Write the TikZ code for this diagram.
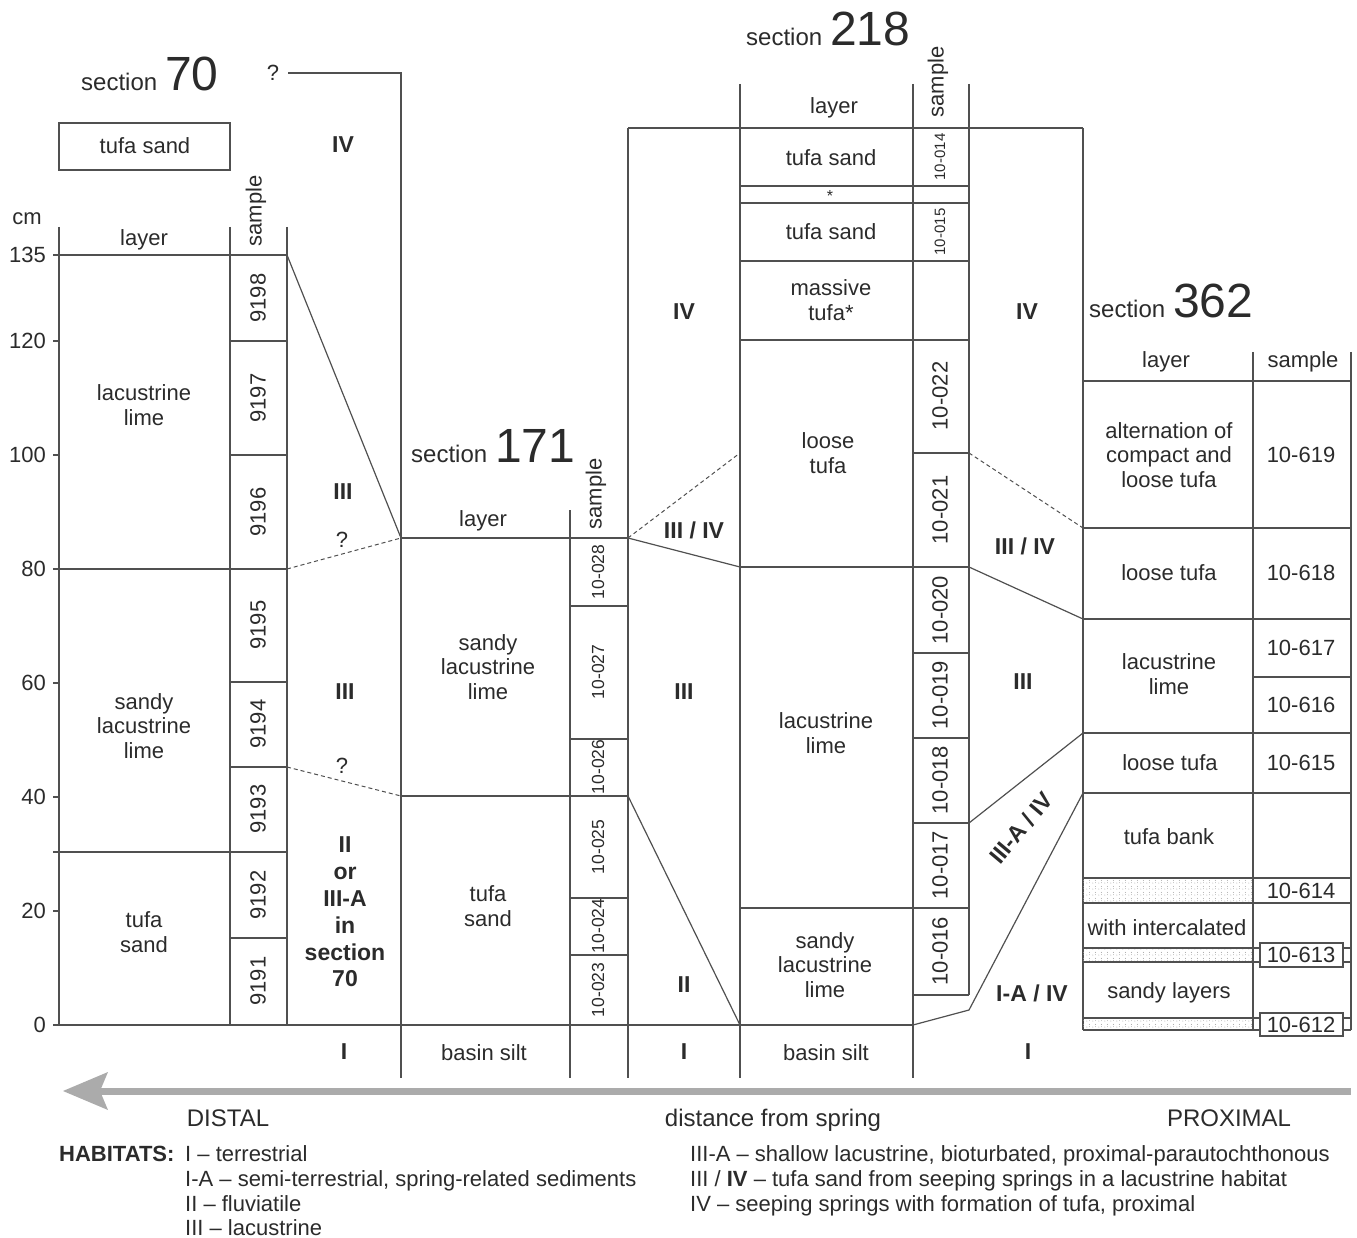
\documentclass[tikz,border=0pt]{standalone}
\usepackage{fontspec}
\setmainfont{Liberation Sans}
\usetikzlibrary{patterns}
\definecolor{txt}{HTML}{2B2B2B}
\definecolor{lc}{HTML}{505050}
\definecolor{arr}{HTML}{ABABAB}
\pgfdeclarepatternformonly{sparsedots}{\pgfpointorigin}{\pgfqpoint{6pt}{6pt}}{\pgfqpoint{6pt}{6pt}}{%
  \pgfpathcircle{\pgfqpoint{1pt}{1pt}}{0.55pt}%
  \pgfpathcircle{\pgfqpoint{4pt}{4pt}}{0.55pt}%
  \pgfpathcircle{\pgfqpoint{4pt}{1.5pt}}{0.45pt}%
  \pgfusepath{fill}}
\newcommand{\sechead}[1]{{\fontsize{24}{28}\selectfont section}\hspace{8pt}{\fontsize{48}{50}\selectfont #1}}
\begin{document}
\begin{tikzpicture}[x=1pt,y=-1pt,
  ln/.style={draw=lc, line width=1.2pt},
  dsh/.style={draw=lc, line width=1pt, dash pattern=on 4pt off 3pt},
  lay/.style={font=\fontsize{22}{24.5}\selectfont, text=txt, align=center, inner sep=0pt},
  big/.style={font=\fontsize{24}{27}\selectfont, text=txt, inner sep=0pt},
  smp/.style={font=\fontsize{22}{24}\selectfont, text=txt, rotate=90, inner sep=0pt},
  smpm/.style={font=\fontsize{17.5}{20}\selectfont, text=txt, rotate=90, inner sep=0pt},
  smps/.style={font=\fontsize{15}{18}\selectfont, text=txt, rotate=90, inner sep=0pt},
  hab/.style={font=\fontsize{23}{27}\selectfont\bfseries, text=txt, align=center, inner sep=0pt},
  leg/.style={font=\fontsize{22}{24}\selectfont, text=txt, anchor=base west, inner sep=0pt},
  sec/.style={anchor=base west, text=txt, inner sep=0pt},
  band/.style={pattern=sparsedots, pattern color=gray!75}
]
\useasboundingbox (0,0) rectangle (1357,1238);

% ---------------- scale ----------------
\node[lay] (cm) at (27,219) {cm};
\foreach \v/\yy in {135/255,120/341,100/455,80/569,60/683,40/797,20/911,0/1025} {
  \node[lay, anchor=east] (tick\v) at (46,\yy) {\v};
  \draw[ln] (53,\yy) -- (59,\yy);
}

% ---------------- section 70 ----------------
\node[sec] (s70) at (81,91) {\sechead{70}};
\draw[ln] (59,123) rectangle (230,170);
\node[lay] (ts70) at (145,146) {tufa sand};
\draw[ln] (59,227) -- (59,1025) (230,227) -- (230,1025) (287,227) -- (287,1025);
\draw[ln] (53,255) -- (287,255) (53,569) -- (287,569) (53,852) -- (287,852);
\draw[ln] (53,1025) -- (913,1025);
\foreach \yy in {341,455,682,767,938} \draw[ln] (230,\yy) -- (287,\yy);
\node[lay] (lay70) at (144,240) {layer};
\node[smp] (smp70) at (256,211) {sample};
\node[lay] (l70a) at (144,405) {lacustrine\\lime};
\node[lay] (l70b) at (144,726) {sandy\\lacustrine\\lime};
\node[lay] (l70c) at (144,932) {tufa\\sand};
\foreach \n/\yy in {9198/298,9197/398,9196/512,9195/625,9194/724,9193/809,9192/895,9191/981}
  \node[smp] (p\n) at (258,\yy) {\n};

% habitat column 70-171
\node[lay] (q0) at (273,73) {?};
\coordinate (c70top) at (288,73);
\coordinate (c171top) at (401,73);
\draw[ln] (c70top) -- (c171top) -- (401,1078);
\coordinate (a70) at (287,255);
\coordinate (b70) at (287,569);
\coordinate (d70) at (287,767);
\coordinate (a171) at (401,538);
\coordinate (d171) at (401,796);
\draw[ln] (a70) -- (a171);
\draw[dsh] (b70) -- (a171);
\draw[dsh] (d70) -- (d171);
\node[hab] (h1) at (343,145) {IV};
\node[hab] (h2) at (343,492) {III};
\node[lay] (q1) at (342,540) {?};
\node[hab] (h3) at (345,692) {III};
\node[lay] (q2) at (342,766) {?};
\node[hab, font=\fontsize{23}{26.8}\selectfont\bfseries] (h4) at (345,912) {II\\or\\III-A\\in\\section\\70};
\node[hab] (h5) at (344,1052) {I};

% ---------------- section 171 ----------------
\node[sec] (s171) at (411,462) {\sechead{171}};
\draw[ln] (401,538) -- (628,538) (401,796) -- (628,796);
\draw[ln] (570,510) -- (570,1078);
\draw[ln] (628,128) -- (628,1078);
\foreach \yy in {606,739,898,955} \draw[ln] (570,\yy) -- (628,\yy);
\node[lay] (lay171) at (483,521) {layer};
\node[smp] (smp171) at (596,494) {sample};
\node[lay] (l171a) at (488,667) {sandy\\lacustrine\\lime};
\node[lay] (l171b) at (488,906) {tufa\\sand};
\node[lay] (l171c) at (484,1053) {basin silt};
\foreach \n/\yy in {028/572,027/672,026/767,025/847,024/926,023/990}
  \node[smpm] (r\n) at (598,\yy) {10-\n};

% habitat column 171-218
\draw[ln] (628,128) -- (1083,128);
\coordinate (e171) at (628,538);
\coordinate (f171) at (628,796);
\coordinate (e218) at (740,453);
\coordinate (g218) at (740,567);
\coordinate (h218) at (740,1025);
\draw[dsh] (e171) -- (e218);
\draw[ln] (e171) -- (g218);
\draw[ln] (f171) -- (h218);
\node[hab] (h6) at (684,312) {IV};
\node[hab] (h7) at (694,530) {III / IV};
\node[hab] (h8) at (684,692) {III};
\node[hab] (h9) at (684,985) {II};
\node[hab] (h10) at (684,1052) {I};

% ---------------- section 218 ----------------
\node[sec] (s218) at (746,46) {\sechead{218}};
\draw[ln] (740,84) -- (740,1078) (913,84) -- (913,1078) (969,84) -- (969,995);
\foreach \yy in {186,203,261,340,567} \draw[ln] (740,\yy) -- (969,\yy);
\draw[ln] (740,908) -- (969,908);
\foreach \yy in {453,653,738,823,995} \draw[ln] (913,\yy) -- (969,\yy);
\node[lay] (lay218) at (834,108) {layer};
\node[smp] (smp218) at (938,82) {sample};
\node[lay] (l218a) at (831,158) {tufa sand};
\node[lay, font=\fontsize{16}{18}\selectfont] (l218b) at (830,196) {*};
\node[lay] (l218c) at (831,232) {tufa sand};
\node[lay] (l218d) at (831,300) {massive\\tufa*};
\node[lay] (l218e) at (828,453) {loose\\tufa};
\node[lay] (l218f) at (826,733) {lacustrine\\lime};
\node[lay] (l218g) at (825,965) {sandy\\lacustrine\\lime};
\node[lay] (l218h) at (826,1053) {basin silt};
\node[smps] (u014) at (940,157) {10-014};
\node[smps] (u015) at (940,232) {10-015};
\foreach \n/\yy in {022/396,021/510,020/610,019/695,018/780,017/865,016/951}
  \node[smp] (u\n) at (940,\yy) {10-\n};

% habitat column 218-362
\draw[ln] (1083,128) -- (1083,1030);
\coordinate (i218) at (969,453);
\coordinate (j218) at (969,567);
\coordinate (k218) at (969,823);
\coordinate (m218) at (913,1025);
\coordinate (n218) at (969,1010);
\coordinate (i362) at (1083,528);
\coordinate (j362) at (1083,619);
\coordinate (k362) at (1083,733);
\coordinate (m362) at (1083,793);
\draw[dsh] (i218) -- (i362);
\draw[ln] (j218) -- (j362);
\draw[ln] (k218) -- (k362);
\draw[ln] (m218) -- (n218) -- (m362);
\node[hab] (h11) at (1027,312) {IV};
\node[hab] (h12) at (1025,546) {III / IV};
\node[hab] (h13) at (1023,682) {III};
\node[hab, rotate=50] (h14) at (1021,828) {III-A / IV};
\node[hab] (h15) at (1032,993) {I-A / IV};
\node[hab] (h16) at (1028,1052) {I};

% ---------------- section 362 ----------------
\node[sec] (s362) at (1089,318) {\sechead{362}};
\fill[band] (1083,878) rectangle (1253,903);
\fill[band] (1083,948) rectangle (1253,962);
\fill[band] (1083,1018) rectangle (1253,1030);
\draw[ln] (1253,352) -- (1253,1030) (1351,352) -- (1351,1030);
\foreach \yy in {381,528,619,733,793,878,903,948,962,1018,1030} \draw[ln] (1083,\yy) -- (1351,\yy);
\draw[ln] (1253,677) -- (1351,677);
\draw[ln, fill=white] (1260,943) rectangle (1343,967);
\draw[ln, fill=white] (1260,1013) rectangle (1343,1036);
\node[lay] (lay362) at (1166,362) {layer};
\node[lay] (smp362) at (1303,362) {sample};
\node[lay] (l362a) at (1169,455) {alternation of\\compact and\\loose tufa};
\node[lay] (l362b) at (1169,573) {loose tufa};
\node[lay] (l362c) at (1169,674) {lacustrine\\lime};
\node[lay] (l362d) at (1170,763) {loose tufa};
\node[lay] (l362e) at (1169,837) {tufa bank};
\node[lay] (l362f) at (1167,928) {with intercalated};
\node[lay] (l362g) at (1169,993) {sandy layers};
\foreach \n/\yy in {619/455,618/573,617/648,616/705,615/763,614/891,613/955,612/1025}
  \node[lay] (v\n) at (1301,\yy) {10-\n};

% ---------------- arrow & legend ----------------
\fill[arr] (63,1091) -- (108,1072) -- (100,1091) -- (108,1110) -- cycle;
\draw[arr, line width=7pt] (100,1091) -- (1351,1091);
\node[big, anchor=base] (distal) at (228,1126) {DISTAL};
\node[big, anchor=base] (dist) at (773,1126) {distance from spring};
\node[big, anchor=base] (prox) at (1229,1126) {PROXIMAL};

\node[leg] (habt) at (59,1161) {\textbf{HABITATS:}};
\node[leg] (lg1) at (185,1161) {I -- terrestrial};
\node[leg] (lg2) at (185,1186) {I-A -- semi-terrestrial, spring-related sediments};
\node[leg] (lg3) at (185,1211) {II -- fluviatile};
\node[leg] (lg4) at (185,1235) {III -- lacustrine};
\node[leg] (lg5) at (690,1161) {III-A -- shallow lacustrine, bioturbated, proximal-parautochthonous};
\node[leg] (lg6) at (690,1186) {III / \textbf{IV} -- tufa sand from seeping springs in a lacustrine habitat};
\node[leg] (lg7) at (690,1211) {IV -- seeping springs with formation of tufa, proximal};
\end{tikzpicture}
\end{document}
